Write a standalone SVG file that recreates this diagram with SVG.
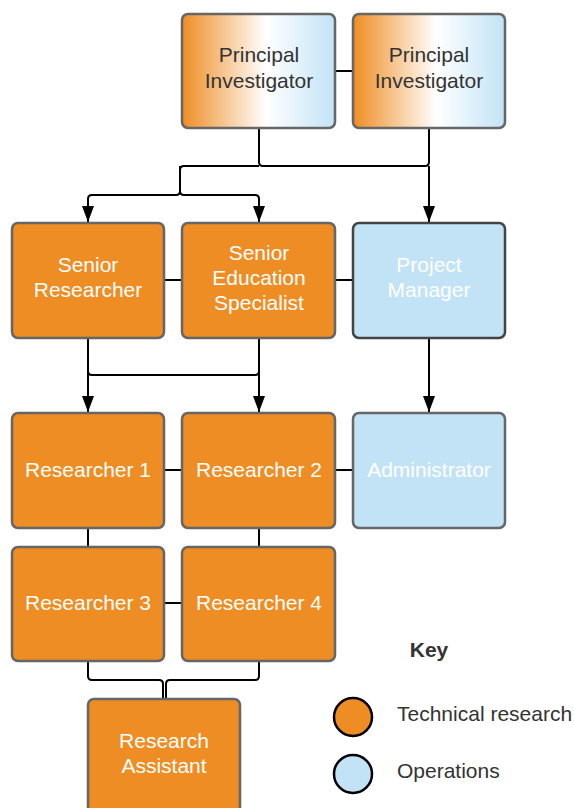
<svg xmlns="http://www.w3.org/2000/svg" width="574" height="808" viewBox="0 0 574 808">
<style>
.box{stroke:#666;stroke-width:2.5}
.tech{fill:#EE8D23}
.ops{fill:#C2E3F6}
.t{font-family:"Liberation Sans",Arial,sans-serif;font-size:21px;text-anchor:middle;fill:#fff}
.dk{fill:#333}
.ln{fill:none;stroke:#000;stroke-width:2}
.kt{font-family:"Liberation Sans",Arial,sans-serif;font-size:21px;fill:#333}
</style>
<defs>
<linearGradient id="g" x1="0" y1="0" x2="1" y2="0">
<stop offset="0" stop-color="#EE8D23"/>
<stop offset="0.55" stop-color="#FFFFFF"/>
<stop offset="1" stop-color="#C2E3F6"/>
</linearGradient>
<marker id="a" markerWidth="16" markerHeight="12" refX="16" refY="6" orient="auto" markerUnits="userSpaceOnUse" viewBox="0 0 16 12">
<path d="M0,0 L16,6 L0,12 Z" fill="#000"/>
</marker>
</defs>
<g id="connectors">
<line class="ln" x1="335" y1="71" x2="353" y2="71"/>
<path class="ln" d="M259,128 V162 Q259,166 263,166 H425 Q429,166 429,162 V128"/>
<path class="ln" d="M429,166 V222" marker-end="url(#a)"/>
<path class="ln" d="M180,166 V191 Q180,195 176,195 H92 Q88,195 88,199 V222" marker-end="url(#a)"/>
<path class="ln" d="M180,191 Q180,195 184,195 H255 Q259,195 259,199 V222" marker-end="url(#a)"/>
<path class="ln" d="M180,170 Q180,166 184,166 H259"/>
<line class="ln" x1="164" y1="280" x2="182" y2="280"/>
<line class="ln" x1="335" y1="280" x2="353" y2="280"/>
<path class="ln" d="M88,338 V371 Q88,375 92,375 H255 Q259,375 259,371 V338"/>
<path class="ln" d="M88,371 V412" marker-end="url(#a)"/>
<path class="ln" d="M259,371 V412" marker-end="url(#a)"/>
<path class="ln" d="M429,338 V412" marker-end="url(#a)"/>
<line class="ln" x1="164" y1="470" x2="182" y2="470"/>
<line class="ln" x1="335" y1="470" x2="353" y2="470"/>
<line class="ln" x1="88" y1="528" x2="88" y2="547"/>
<line class="ln" x1="259" y1="528" x2="259" y2="547"/>
<line class="ln" x1="164" y1="603" x2="182" y2="603"/>
<path class="ln" d="M88,661 V676 Q88,680 92,680 H159 Q163,680 163,684 V699"/>
<path class="ln" d="M259,661 V676 Q259,680 255,680 H170 Q166,680 166,684 V699"/>
</g>
<g id="pi1"><rect class="box" x="182" y="14" width="153" height="114" rx="6" fill="url(#g)"/>
<text class="t dk" x="259" y="62">Principal</text><text class="t dk" x="259" y="88">Investigator</text></g>
<g id="pi2"><rect class="box" x="353" y="14" width="152" height="114" rx="6" fill="url(#g)"/>
<text class="t dk" x="429" y="62">Principal</text><text class="t dk" x="429" y="88">Investigator</text></g>
<g id="senior-researcher"><rect class="box tech" x="12" y="223" width="152" height="115" rx="6"/>
<text class="t" x="88" y="272">Senior</text><text class="t" x="88" y="297">Researcher</text></g>
<g id="senior-education"><rect class="box tech" x="182" y="223" width="153" height="115" rx="6"/>
<text class="t" x="259" y="260">Senior</text><text class="t" x="259" y="285">Education</text><text class="t" x="259" y="310">Specialist</text></g>
<g id="project-manager"><rect class="box ops" style="stroke:#444" x="353" y="223" width="152" height="115" rx="6"/>
<text class="t" x="429" y="272">Project</text><text class="t" x="429" y="297">Manager</text></g>
<g id="researcher1"><rect class="box tech" x="12" y="413" width="152" height="115" rx="6"/>
<text class="t" x="88" y="477">Researcher 1</text></g>
<g id="researcher2"><rect class="box tech" x="182" y="413" width="153" height="115" rx="6"/>
<text class="t" x="259" y="477">Researcher 2</text></g>
<g id="administrator"><rect class="box ops" x="353" y="413" width="152" height="115" rx="6"/>
<text class="t" x="429" y="477">Administrator</text></g>
<g id="researcher3"><rect class="box tech" x="12" y="547" width="152" height="114" rx="6"/>
<text class="t" x="88" y="610">Researcher 3</text></g>
<g id="researcher4"><rect class="box tech" x="182" y="547" width="153" height="114" rx="6"/>
<text class="t" x="259" y="610">Researcher 4</text></g>
<g id="research-assistant"><rect class="box tech" x="88" y="699" width="152" height="115" rx="6"/>
<text class="t" x="164" y="748">Research</text><text class="t" x="164" y="773">Assistant</text></g>
<g id="key">
<text class="kt" x="429" y="657" text-anchor="middle" font-weight="bold">Key</text>
<circle cx="353" cy="717" r="19" fill="#EE8D23" stroke="#000" stroke-width="2.5"/>
<text class="kt" x="397" y="721">Technical research</text>
<circle cx="353" cy="774" r="19" fill="#C2E3F6" stroke="#000" stroke-width="2.5"/>
<text class="kt" x="397" y="778">Operations</text>
</g>
</svg>
